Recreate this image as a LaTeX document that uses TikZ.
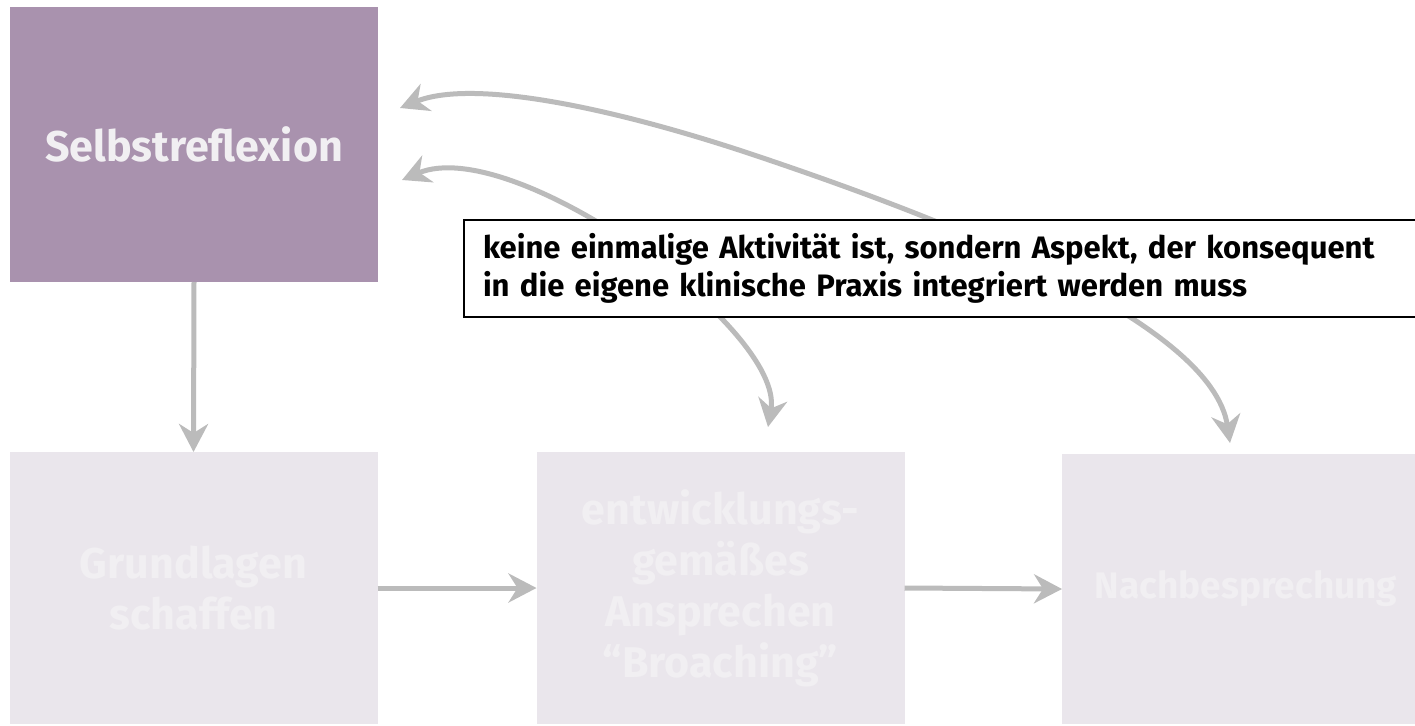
\documentclass[tikz,border=0pt]{standalone}
\usepackage{fontspec}
\setmainfont{Fira Sans}
\usetikzlibrary{arrows.meta}
\definecolor{topbox}{HTML}{A992AE}
\definecolor{lowbox}{HTML}{EAE6EC}
\definecolor{lowtext}{HTML}{F1EFF2}
\definecolor{toptext}{HTML}{F1EFF2}
\definecolor{arrowgray}{HTML}{BBBBBB}
\begin{document}
\begin{tikzpicture}[x=1pt,y=-1pt,
  stepbox/.style={inner sep=0pt, outer sep=0pt, minimum width=368pt, align=center,
     font=\fontsize{43}{51}\selectfont\bfseries},
  lowstep/.style={stepbox, fill=lowbox, text=lowtext, minimum height=272pt},
  conn/.style={draw=arrowgray, line width=5pt,
     -{Stealth[length=28pt,width=29pt,inset=9pt]}},
  biconn/.style={draw=arrowgray, line width=5pt,
     {Stealth[length=28pt,width=29pt,inset=9pt]}-{Stealth[length=28pt,width=29pt,inset=9pt]}},
  notebox/.style={draw=black, line width=2pt, fill=white, anchor=north west, outer sep=0pt,
     inner xsep=19pt, inner ysep=0pt, text width=980pt, minimum height=97pt, align=left,
     font=\fontsize{31}{38}\selectfont\bfseries}]
\useasboundingbox (0,0) rectangle (1415,725);
\clip (0,0) rectangle (1415,725);
\node[stepbox, fill=topbox, text=toptext, minimum height=275pt] (top) at (194,144.5) {Selbstreflexion};
\node[lowstep] (grund) at (193.5,588) {Grundlagen\\schaffen};
\node[lowstep] (mid) at (720.5,588) {entwicklungs-\\gemäßes\\Ansprechen\\“Broaching”};
\node[lowstep, minimum height=270pt, font=\fontsize{37}{44}\selectfont\bfseries] (nach) at (1246,589) {Nachbesprechung};
\draw[conn] (top.south) -- (grund.north);
\draw[conn] (grund.east) -- (mid.west);
\draw[conn] (mid.east) -- (nach.west);
\coordinate (c1a) at (400,108);
\coordinate (c1m) at (760,157);
\coordinate (c1b) at (1230,443);
\coordinate (c2a) at (402,180);
\coordinate (c2b) at (768,427);
\draw[biconn] (c1a) .. controls (474,78) and (618,109) .. (c1m)
   .. controls (950,221) and (1212,323) .. (c1b);
\draw[biconn] (c2a) .. controls (512,133) and (785,329) .. (c2b);
\node[notebox] (note) at (464,220) {keine einmalige Aktivität ist, sondern Aspekt, der konsequent\\in die eigene klinische Praxis integriert werden muss};
\end{tikzpicture}
\end{document}
